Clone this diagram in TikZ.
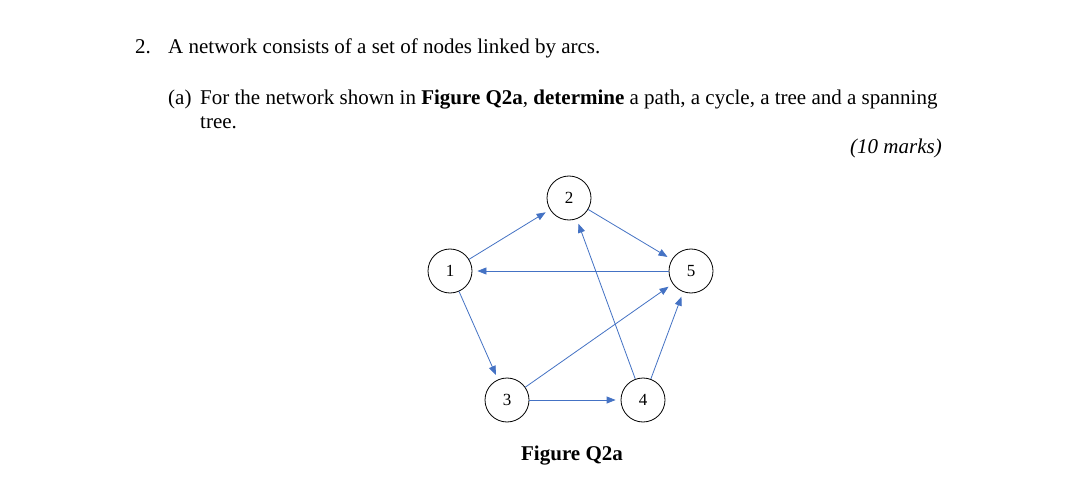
\documentclass[tikz,border=0pt]{standalone}
\usepackage{fontspec}
\setmainfont{Liberation Serif}
\usetikzlibrary{arrows.meta}
\definecolor{eblue}{RGB}{68,114,196}
\begin{document}
\begin{tikzpicture}[x=1pt,y=-1pt,
  vert/.style={circle,draw,thick,minimum size=44pt,inner sep=0pt,font=\fontsize{17}{19}\selectfont},
  arc/.style={eblue,line width=0.8pt,-{Triangle[length=9pt,width=7pt]},shorten >=5pt},
  txt/.style={anchor=base west,inner sep=0pt,font=\fontsize{21}{25}\selectfont}]
\useasboundingbox[fill=white] (0,0) rectangle (1080,484);
\node[txt] (n2) at (135,54) {2.};
\node[txt] (l1) at (168,54) {A network consists of a set of nodes linked by arcs.};
\node[txt] (a) at (168,105) {(a)};
\node[txt] (l2) at (200,105) {For the network shown in \textbf{Figure Q2a}, \textbf{determine} a path, a cycle, a tree and a spanning};
\node[txt] (l3) at (200,129) {tree.};
\node[txt,anchor=base east] (mk) at (942,154) {\textit{(10 marks)}};
\node[vert] (v1) at (450,271) {1};
\node[vert] (v2) at (569,198) {2};
\node[vert] (v5) at (691,271) {5};
\node[vert] (v3) at (507,400) {3};
\node[vert] (v4) at (643,400) {4};
\node[txt,anchor=base,font=\bfseries\fontsize{21}{25}\selectfont] (cap) at (572,460) {Figure Q2a};
\draw[arc] (v1) -- (v2);
\draw[arc] (v5) -- (v1);
\draw[arc] (v2) -- (v5);
\draw[arc] (v1) -- (v3);
\draw[arc] (v3) -- (v4);
\draw[arc] (v4) -- (v2);
\draw[arc] (v3) -- (v5);
\draw[arc] (v4) -- (v5);
\end{tikzpicture}
\end{document}
